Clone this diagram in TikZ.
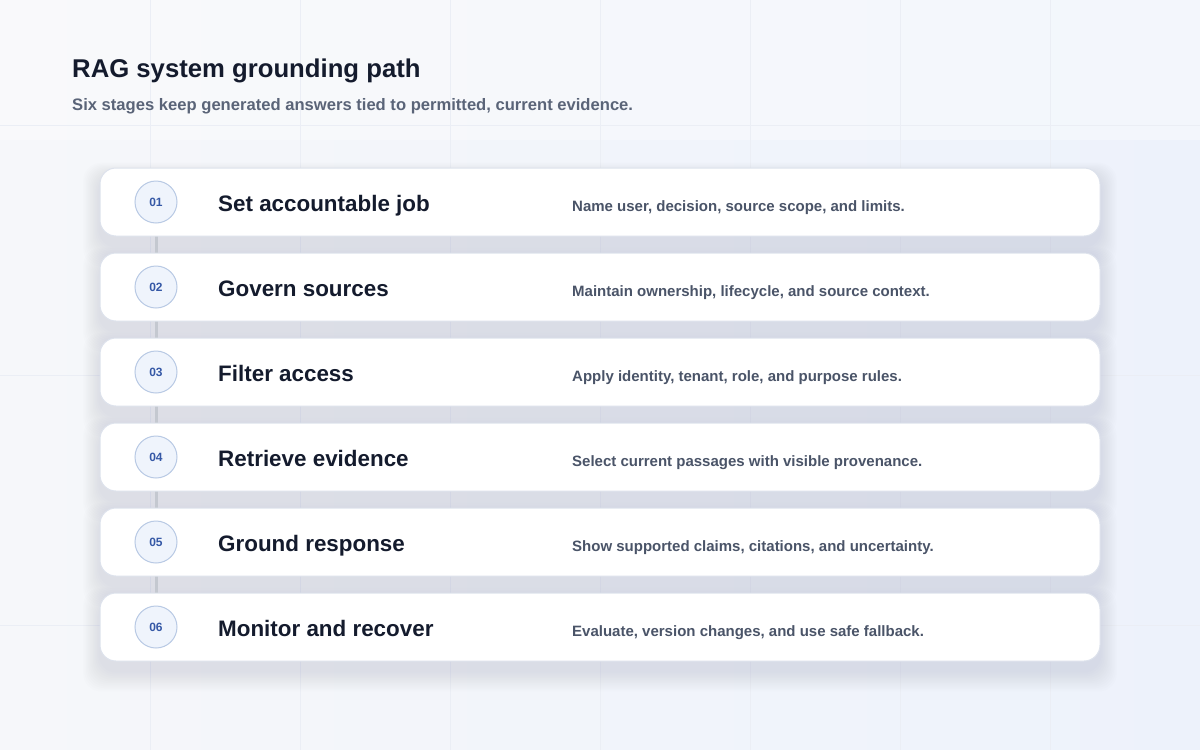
\documentclass[tikz,border=0pt]{standalone}
\usepackage{fontspec}
\setmainfont{Liberation Sans}
\definecolor{bgA}{HTML}{F6F7FA}
\definecolor{bgB}{HTML}{EDF2FB}
\definecolor{gridc}{HTML}{EBEEF5}
\definecolor{shadowc}{HTML}{9AA3B8}
\definecolor{cardline}{HTML}{DDE2EC}
\definecolor{circfill}{HTML}{EFF4FC}
\definecolor{circline}{HTML}{B8C9E4}
\definecolor{numc}{HTML}{3558A6}
\definecolor{titlec}{HTML}{141B2D}
\definecolor{subc}{HTML}{5A6478}
\definecolor{descc}{HTML}{4A5468}
\definecolor{linkc}{HTML}{C4C8D0}
\pgfdeclarelayer{bglayer}
\pgfdeclarelayer{linklayer}
\pgfsetlayers{bglayer,linklayer,main}
\tikzset{
  card/.style={draw=cardline, line width=1pt, fill=white, rounded corners=16pt, minimum width=1000pt, minimum height=68pt, inner sep=0pt},
  numcirc/.style={circle, draw=circline, line width=1pt, fill=circfill, minimum size=42pt, inner sep=0pt, text=numc, font=\fontsize{12}{13}\selectfont\bfseries},
  steptitle/.style={anchor=base west, inner sep=0pt, text=titlec, font=\fontsize{22.4}{26}\selectfont\bfseries},
  stepdesc/.style={anchor=base west, inner sep=0pt, text=descc, font=\fontsize{15}{18}\selectfont\bfseries},
  link/.style={draw=linkc, line width=3pt}
}
\begin{document}
\begin{tikzpicture}[x=1pt,y=-1pt]
\useasboundingbox (0,0) rectangle (1200,750);
\begin{pgfonlayer}{bglayer}
\shade[left color=bgA, right color=bgB] (0,0) rectangle (1200,750);
\fill[white, opacity=0.35] (0,0) rectangle (1200,140);
% faint grid
\foreach \gx in {150,300,450,600,750,900,1050}
  \draw[gridc, line width=0.8pt] (\gx,0) -- (\gx,750);
\foreach \gy in {125,375,625}
  \draw[gridc, line width=0.8pt] (0,\gy) -- (1200,\gy);
% shadows
\foreach \cy in {202,287,372,457,542,627}{
  \foreach \k in {1,...,12}{
    \fill[shadowc, opacity=0.019, rounded corners=18pt] (100-1.4*\k,\cy-34+8-1.1*\k) rectangle (1100+1.4*\k,\cy+34+10+1.7*\k);
  }
}
\end{pgfonlayer}
% title
\node[anchor=base west, inner sep=0pt, text=titlec, font=\fontsize{25.7}{30}\selectfont\bfseries] (title) at (72,77) {RAG system grounding path};
\node[anchor=base west, inner sep=0pt, text=subc, font=\fontsize{16.6}{20}\selectfont\bfseries] (subtitle) at (72,110) {Six stages keep generated answers tied to permitted, current evidence.};
% cards
\node[card] (c1) at (600,202) {};
\node[card] (c2) at (600,287) {};
\node[card] (c3) at (600,372) {};
\node[card] (c4) at (600,457) {};
\node[card] (c5) at (600,542) {};
\node[card] (c6) at (600,627) {};
% numbers
\node[numcirc] (n1) at (156,202) {01};
\node[numcirc] (n2) at (156,287) {02};
\node[numcirc] (n3) at (156,372) {03};
\node[numcirc] (n4) at (156,457) {04};
\node[numcirc] (n5) at (156,542) {05};
\node[numcirc] (n6) at (156,627) {06};
\begin{pgfonlayer}{linklayer}
\draw[link] (n1) -- (n2);
\draw[link] (n2) -- (n3);
\draw[link] (n3) -- (n4);
\draw[link] (n4) -- (n5);
\draw[link] (n5) -- (n6);
\end{pgfonlayer}
% titles
\node[steptitle] (t1) at (218,211.7) {Set accountable job};
\node[steptitle] (t2) at (218,296.7) {Govern sources};
\node[steptitle] (t3) at (218,381.7) {Filter access};
\node[steptitle] (t4) at (218,466.7) {Retrieve evidence};
\node[steptitle] (t5) at (218,551.7) {Ground response};
\node[steptitle] (t6) at (218,636.7) {Monitor and recover};
% descriptions
\node[stepdesc] (d1) at (572,211.7) {Name user, decision, source scope, and limits.};
\node[stepdesc] (d2) at (572,296.7) {Maintain ownership, lifecycle, and source context.};
\node[stepdesc] (d3) at (572,381.7) {Apply identity, tenant, role, and purpose rules.};
\node[stepdesc] (d4) at (572,466.7) {Select current passages with visible provenance.};
\node[stepdesc] (d5) at (572,551.7) {Show supported claims, citations, and uncertainty.};
\node[stepdesc] (d6) at (572,636.7) {Evaluate, version changes, and use safe fallback.};
\end{tikzpicture}
\end{document}
